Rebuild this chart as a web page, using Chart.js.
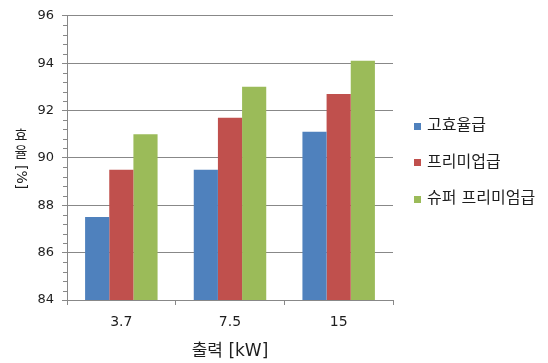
<!DOCTYPE html>
<html><head><meta charset="utf-8">
<script src="https://cdn.jsdelivr.net/npm/chart.js@4/dist/chart.umd.min.js"></script>
<style>html,body{margin:0;padding:0;background:#fff}canvas{display:block}</style>
</head><body>
<canvas id="c" width="548" height="363"></canvas>
<script>
// Motor efficiency by output class
const categories = ['3.7', '7.5', '15'];
const seriesNames = ['고효율급', '프리미업급', '슈퍼 프리미엄급'];
const highEfficiency = [87.5, 89.5, 91.1];
const premium = [89.5, 91.7, 92.7];
const superPremium = [91.0, 93.0, 94.1];
const yMin = 84, yMax = 96, yStep = 2;
const xTitle = '출력 [kW]';
const yTitleUpright = ['효', '율'];
const yTitleRotated = '[%]';

const colors = ['#4F81BD', '#C0504D', '#9BBB59'];
const gridColor = '#888888';
const textColor = '#1e1e1e';
const FONT = '"DejaVu Sans", "Noto Sans CJK KR", sans-serif';

// Minor tick marks on the value axis (4 per major interval)
const minorTicks = {
  id: 'minorTicks',
  afterDraw(chart) {
    const s = chart.scales.y, ctx = chart.ctx;
    ctx.save();
    ctx.strokeStyle = gridColor;
    ctx.lineWidth = 1;
    for (let v = yMin; v < yMax; v += yStep) {
      for (let k = 1; k < 5; k++) {
        const y = Math.round(s.getPixelForValue(v + yStep * k / 5)) + 0.5;
        ctx.beginPath();
        ctx.moveTo(s.right - 4, y);
        ctx.lineTo(s.right, y);
        ctx.stroke();
      }
    }
    ctx.restore();
  }
};

// Vertical axis title: upright syllables stacked, unit rotated
const yTitle = {
  id: 'yTitle',
  afterDraw(chart) {
    const ctx = chart.ctx;
    ctx.save();
    ctx.fillStyle = textColor;
    ctx.font = '14px ' + FONT;
    ctx.textAlign = 'center';
    ctx.textBaseline = 'middle';
    let y = 136;
    yTitleUpright.forEach(ch => { ctx.fillText(ch, 21, y); y += 17; });
    ctx.translate(21, y - 5);
    ctx.rotate(Math.PI / 2);
    ctx.textAlign = 'left';
    ctx.fillText(yTitleRotated, 0, 0);
    ctx.restore();
  }
};

// Legend to the right of the plot
const sideLegend = {
  id: 'sideLegend',
  afterDraw(chart) {
    const ctx = chart.ctx;
    ctx.save();
    ctx.font = '16px ' + FONT;
    ctx.textBaseline = 'middle';
    ctx.textAlign = 'left';
    chart.data.datasets.forEach((ds, i) => {
      const cy = 126 + i * 36.5;
      ctx.fillStyle = ds.backgroundColor;
      ctx.fillRect(414, Math.round(cy - 3.5), 7, 7);
      ctx.fillStyle = textColor;
      ctx.fillText(ds.label, 427, cy);
    });
    ctx.restore();
  }
};

new Chart(document.getElementById('c'), {
  type: 'bar',
  data: {
    labels: categories,
    datasets: [
      { label: seriesNames[0], data: highEfficiency, backgroundColor: colors[0] },
      { label: seriesNames[1], data: premium, backgroundColor: colors[1] },
      { label: seriesNames[2], data: superPremium, backgroundColor: colors[2] }
    ]
  },
  options: {
    responsive: false,
    animation: false,
    devicePixelRatio: 1,
    layout: { padding: { top: 14, right: 155, bottom: 0, left: 0 } },
    datasets: { bar: { categoryPercentage: 0.667, barPercentage: 1.0 } },
    plugins: { legend: { display: false }, tooltip: { enabled: false } },
    scales: {
      x: {
        grid: { drawOnChartArea: false, tickLength: 5, color: gridColor, offset: true },
        border: { color: gridColor },
        ticks: { color: textColor, font: { family: FONT, size: 14 }, padding: 9 },
        title: { display: true, text: xTitle, color: textColor, font: { family: FONT, size: 17 }, padding: { top: 2, bottom: 1 } },
        afterFit(s) { s.height = 63; }
      },
      y: {
        min: yMin, max: yMax,
        ticks: { stepSize: yStep, color: textColor, font: { family: FONT, size: 13 }, padding: 8 },
        grid: { color: gridColor, tickLength: 5 },
        border: { color: gridColor },
        afterFit(s) { s.width = 67; }
      }
    }
  },
  plugins: [minorTicks, yTitle, sideLegend]
});
</script>
</body></html>
